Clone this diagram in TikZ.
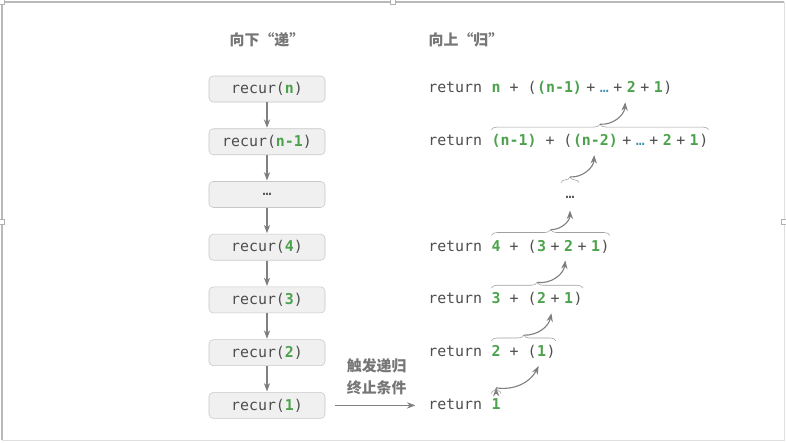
\documentclass[tikz,border=0pt]{standalone}
\usepackage{fontspec}
\setmonofont{DejaVu Sans Mono}
\newfontfamily\cjk{Noto Sans CJK SC}
\usetikzlibrary{positioning,calc,arrows.meta,decorations.pathreplacing}

\definecolor{recgreen}{RGB}{76,162,76}
\definecolor{recdots}{RGB}{62,143,176}
\definecolor{rectext}{RGB}{78,78,78}
\definecolor{boxfill}{RGB}{240,240,240}
\definecolor{boxline}{RGB}{200,200,200}
\definecolor{linkgray}{RGB}{128,128,128}
\definecolor{titlegray}{RGB}{118,118,118}

\newcommand{\G}[1]{\textcolor{recgreen}{\bfseries #1}}
\newcommand{\D}{\textcolor{recdots}{…}}
\newcommand{\pl}{\kern3.2pt+\kern3.2pt}
\newcommand{\msp}{\hphantom{0}}

\begin{document}
\begin{tikzpicture}[x=0.025cm,y=-0.025cm,
                    >={Stealth[length=6pt,width=4.5pt]},
                    node distance=0.654cm,
                    call node/.style={rectangle,rounded corners=3pt,draw=boxline,fill=boxfill,
                                      inner sep=2pt,minimum width=2.9cm,minimum height=0.65cm,
                                      font=\ttfamily\fontsize{10.6}{12}\selectfont,text=rectext},
                    ret node/.style={inner sep=0pt,text height=8pt,text depth=2.5pt,
                                     font=\ttfamily\fontsize{10.6}{12}\selectfont,text=rectext},
                    title node/.style={font=\cjk\bfseries\fontsize{10.6}{15.6}\selectfont,text=titlegray},
                    down link/.style={->,draw=linkgray,thick,shorten >=0.5pt},
                    up link/.style={->,draw=linkgray,thick},
                    sum brace/.style={draw=boxline!80!black,thin,decorate,decoration={brace,amplitude=4pt}}]

  \useasboundingbox (0,0) rectangle (786,442);
  % frame of the screenshot
  \draw[gray!25] (2,2) rectangle (784,440);
  \draw[gray!55,line width=1pt] (2,440) -- (2,2) -- (784,2);
  \foreach \hx/\hy in {2/2,393/2,2/222,784/222}
    \draw[gray!60,fill=white] (\hx-2.5,\hy-2.5) rectangle (\hx+2.5,\hy+2.5);

  % titles
  \node[title node] (tdown) at (267,40) {向下“递”};
  \node[title node] (tup) at (466,40) {向上“归”};

  % left column
  \node[call node] (b1) at (267,89) {recur(\G{n})};
  \node[call node] (b2) [below=of b1] {recur(\G{n-1})};
  \node[call node] (b3) [below=of b2] {…};
  \node[call node] (b4) [below=of b3] {recur(\G{4})};
  \node[call node] (b5) [below=of b4] {recur(\G{3})};
  \node[call node] (b6) [below=of b5] {recur(\G{2})};
  \node[call node] (b7) [below=of b6] {recur(\G{1})};

  \path[down link]
    (b1) edge (b2)
    (b2) edge (b3)
    (b3) edge (b4)
    (b4) edge (b5)
    (b5) edge (b6)
    (b6) edge (b7);

  % right column
  \coordinate (rx) at (428,0);
  \node[ret node,anchor=west] (r1a) at (b1 -| rx) {return\msp};
  \node[ret node,anchor=base west] (r1b) at (r1a.base east) {\G{n}\msp+\msp(};
  \node[ret node,anchor=base west] (r1c) at (r1b.base east) {\G{(n-1)}\pl\D\pl\G{2}\pl\G{1}};
  \node[ret node,anchor=base west] (r1d) at (r1c.base east) {)};

  \node[ret node,anchor=west] (r2a) at (b2 -| rx) {return\msp};
  \node[ret node,anchor=base west] (r2b) at (r2a.base east) {\G{(n-1)}\msp+\msp(};
  \node[ret node,anchor=base west] (r2c) at (r2b.base east) {\G{(n-2)}\pl\D\pl\G{2}\pl\G{1}};
  \node[ret node,anchor=base west] (r2d) at (r2c.base east) {)};

  \node[ret node] (r3) at (b3 -| 570,0) {…};

  \node[ret node,anchor=west] (r4a) at (b4 -| rx) {return\msp};
  \node[ret node,anchor=base west] (r4b) at (r4a.base east) {\G{4}\msp+\msp(};
  \node[ret node,anchor=base west] (r4c) at (r4b.base east) {\G{3}\pl\G{2}\pl\G{1}};
  \node[ret node,anchor=base west] (r4d) at (r4c.base east) {)};

  \node[ret node,anchor=west] (r5a) at (b5 -| rx) {return\msp};
  \node[ret node,anchor=base west] (r5b) at (r5a.base east) {\G{3}\msp+\msp(};
  \node[ret node,anchor=base west] (r5c) at (r5b.base east) {\G{2}\pl\G{1}};
  \node[ret node,anchor=base west] (r5d) at (r5c.base east) {)};

  \node[ret node,anchor=west] (r6a) at (b6 -| rx) {return\msp};
  \node[ret node,anchor=base west] (r6b) at (r6a.base east) {\G{2}\msp+\msp(};
  \node[ret node,anchor=base west] (r6c) at (r6b.base east) {\G{1}};
  \node[ret node,anchor=base west] (r6d) at (r6c.base east) {)};

  \node[ret node,anchor=west] (r7a) at (b7 -| rx) {return\msp};
  \node[ret node,anchor=base west] (r7b) at (r7a.base east) {\G{1}};

  % base case
  \draw[->,draw=linkgray,thin,shorten <=7pt,shorten >=9pt] (b7) -- (r7a)
    node[midway,above=4pt,title node,align=center] (stop) {触发递归\\终止条件};

  % braces
  \draw[sum brace] ([yshift=3pt]r2b.north west) -- ([yshift=3pt]r2d.north east);
  \draw[sum brace] ([yshift=3pt,xshift=-3pt]r3.north west) -- ([yshift=3pt,xshift=3pt]r3.north east);
  \draw[sum brace] ([yshift=3pt]r4b.north west) -- ([yshift=3pt]r4d.north east);
  \draw[sum brace] ([yshift=3pt]r5b.north west) -- ([yshift=3pt]r5d.north east);
  \draw[sum brace] ([yshift=3pt]r6b.north west) -- ([yshift=3pt]r6d.north east);
  \draw[sum brace] ([yshift=3pt]r7b.north west) -- ([yshift=3pt]r7b.north east);

  \coordinate (t2) at ($(r2b.north west)!0.5!(r2d.north east)+(0pt,7pt)$);
  \coordinate (t3) at ($(r3.north)+(0pt,7pt)$);
  \coordinate (t4) at ($(r4b.north west)!0.5!(r4d.north east)+(0pt,7pt)$);
  \coordinate (t5) at ($(r5b.north west)!0.5!(r5d.north east)+(0pt,7pt)$);
  \coordinate (t6) at ($(r6b.north west)!0.5!(r6d.north east)+(0pt,7pt)$);
  \coordinate (t7) at ($(r7b.north)+(0pt,7pt)$);

  \coordinate (g1) at ($(r1c.south west)!0.70!(r1c.south east)+(0pt,-4pt)$);
  \coordinate (g2) at ($(r2c.south west)!0.17!(r2c.south east)+(0pt,-4pt)$);
  \coordinate (g3) at ($(r3.south)+(0pt,-6pt)$);
  \coordinate (g4) at ($(r4c.south west)!0.45!(r4c.south east)+(0pt,-4pt)$);
  \coordinate (g5) at ($(r5c.south west)!0.40!(r5c.south east)+(0pt,-4pt)$);
  \coordinate (g6) at ($(r6c.south west)!0.20!(r6c.south east)+(0pt,-4pt)$);

  \path[up link]
    (t2) edge[bend right=45] (g1)
    (t3) edge[bend right=45] (g2)
    (t4) edge[bend right=45] (g3)
    (t5) edge[bend right=45] (g4)
    (t6) edge[bend right=40] (g5)
    (t7) edge[bend right=35] (g6);
\end{tikzpicture}
\end{document}
